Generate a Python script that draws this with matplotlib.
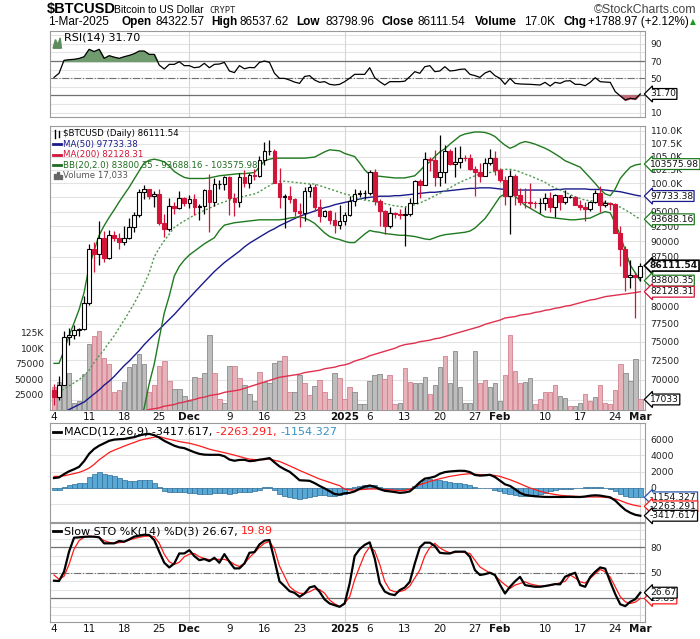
import numpy as np
import matplotlib
matplotlib.use('Agg')
import matplotlib.pyplot as plt
import matplotlib.transforms as mtrans
from matplotlib.lines import Line2D
from matplotlib.text import Annotation

# ---------------- data ----------------
dates = np.arange(np.datetime64('2024-11-04'), np.datetime64('2025-03-02'))

opens = [68742, 67811, 69359, 75640, 75904, 76545, 76778, 80474, 88701, 87955, 90585, 87250, 91066, 90558, 89845, 90542, 92343, 94339, 98504, 98997,
         97777, 98013, 93102, 91985, 95962, 95652, 97461, 96450, 97279, 95865, 96003, 98768, 96593, 99920, 99923, 101237, 97432, 96675, 101173, 100043,
         101459, 101372, 104298, 106030, 106140, 100042, 97491, 97755, 97224, 95104, 94686, 98676, 99299, 95795, 94164, 95163, 93530, 92643, 93429, 94419,
         96887, 98107, 98236, 98315, 102078, 96922, 95043, 92484, 94701, 94566, 94488, 94516, 96534, 100504, 99756, 104462, 104408, 101089, 102016, 106146,
         103654, 103960, 104819, 104714, 102682, 102087, 101332, 103733, 104722, 102405, 100655, 97688, 101406, 97871, 96615, 96593, 96529, 96482, 96500, 97437,
         95748, 97885, 96623, 97509, 97627, 96131, 95771, 95539, 96635, 98334, 96125, 96578, 96273, 91418, 88736, 84347, 84704, 84322.57]
highs = [69399, 70522, 76460, 76943, 77252, 76922, 81474, 89604, 89956, 93434, 91766, 91868, 91764, 91450, 92594, 93905, 94903, 98960, 99655, 99000,
         98650, 98935, 94640, 97361, 96650, 98694, 97499, 97836, 98152, 96297, 99000, 101700, 101000, 100552, 101399, 101272, 98270, 101935, 102540, 101896,
         102618, 105047, 107781, 108268, 106470, 102748, 98098, 99540, 97348, 96416, 99404, 99963, 99884, 97294, 95294, 95218, 94903, 96090, 94929, 97739,
         98956, 98734, 98813, 102482, 102712, 97258, 95349, 95837, 94977, 95378, 95837, 97352, 100681, 100781, 105865, 104914, 106314, 109114, 107240, 106394,
         106850, 107120, 105236, 105475, 103227, 103760, 104784, 106458, 106027, 102755, 101432, 102500, 101733, 99120, 99167, 100137, 96880, 97323, 98345, 98477,
         98118, 97972, 98826, 97944, 97732, 97046, 96754, 96856, 98767, 99497, 96955, 96672, 96503, 92511, 89287, 87078, 85120, 86537.62]
lows = [66803, 67458, 69322, 74480, 75418, 75774, 76566, 80216, 85156, 86256, 86668, 87124, 90094, 88744, 89377, 90371, 91619, 94124, 97232, 97244,
        95791, 92642, 90770, 91778, 94677, 95407, 96000, 95693, 94482, 93629, 94660, 91600, 95981, 99022, 98771, 94355, 94321, 95754, 99311, 99205,
        100634, 101227, 103322, 105291, 100041, 95587, 92175, 96426, 94260, 92403, 93448, 97596, 95137, 93253, 94017, 92881, 91317, 92120, 92788, 94201,
        96034, 97562, 97291, 97926, 96132, 92525, 91220, 92207, 93840, 93712, 89256, 94305, 96500, 97335, 99951, 102227, 99616, 99551, 100119, 103339,
        101262, 102750, 104106, 102540, 97795, 100272, 101329, 103319, 101560, 100297, 96186, 91231, 96208, 96216, 95709, 95620, 95688, 94713, 95256, 94876,
        94088, 95300, 96257, 97322, 96075, 95205, 93388, 95078, 96442, 94871, 95847, 95272, 91371, 86008, 82256, 82716, 78258, 83798.96]
closes = opens[1:] + [86111.54]

volume = [37, 46, 48, 59, 12, 15, 58, 107, 120, 128, 84, 74, 29, 32, 46, 69, 74, 91, 74, 29,
          41, 71, 79, 47, 34, 34, 23, 15, 54, 52, 59, 122, 59, 18, 12, 71, 71, 51, 40, 26,
          15, 61, 46, 44, 76, 80, 87, 29, 29, 57, 43, 24, 39, 48, 29, 18, 59, 51, 18, 37,
          29, 9.4, 9.4, 47, 56, 58, 50, 57, 9.4, 10.6, 68, 46, 43, 43, 54, 26, 41, 69, 87, 44,
          96, 37, 12, 12, 96, 43, 48, 37, 43, 14, 57, 122, 63, 44, 46, 52, 9.4, 18, 29, 29,
          40, 23, 19, 6.7, 6.7, 12, 26, 14, 21, 40, 11, 9.4, 32, 74, 59, 47, 82, 17.033]
volume_dir = list("duuuuuuudddddduuuuuddddduuuuuduudduudduuuduuuudduudduddduddduu"
                  "uuuudddudduuuduuduuuuuudduuudddduuddddduuduudduddddduuudddddudu")

ma50 = [65.3, 65.6, 65.9, 66.3, 66.6, 66.9, 67.2, 67.7, 68.2, 68.7, 69.3, 69.8, 70.4, 71.1, 71.8, 72.4, 73.1, 73.8, 74.6, 75.3,
        76.0, 76.7, 77.4, 78.1, 78.8, 79.6, 80.4, 81.2, 82.0, 82.8, 83.6, 84.4, 85.2, 85.9, 86.6, 87.2, 87.8, 88.4, 89.1, 89.7,
        90.2, 90.7, 91.2, 91.7, 92.1, 92.6, 93.0, 93.4, 93.8, 94.2, 94.5, 94.8, 95.1, 95.4, 95.7, 95.9, 96.2, 96.4, 96.6, 96.8,
        97.0, 97.2, 97.4, 97.5, 97.6, 97.7, 97.7, 97.7, 97.8, 97.8, 97.9, 98.0, 98.1, 98.2, 98.3, 98.4, 98.4, 98.5, 98.6, 98.7,
        98.8, 98.9, 99.0, 99.1, 99.1, 99.2, 99.2, 99.2, 99.1, 99.0, 98.9, 98.8, 98.8, 98.8, 98.8, 98.8, 98.8, 98.8, 98.8, 98.8,
        98.9, 98.9, 99.0, 99.0, 99.0, 99.0, 99.0, 98.9, 98.9, 98.9, 98.8, 98.7, 98.6, 98.5, 98.3, 98.1, 97.9, 97.73338]
ma200 = [62.7, 62.8, 62.9, 63.0, 63.1, 63.3, 63.5, 63.7, 63.9, 64.1, 64.3, 64.5, 64.7, 64.9, 65.1, 65.3, 65.5, 65.8, 66.1, 66.3,
         66.4, 66.5, 66.7, 66.8, 66.9, 67.1, 67.2, 67.4, 67.5, 67.7, 67.8, 68.0, 68.1, 68.2, 68.4, 68.5, 68.6, 68.7, 68.9, 69.1,
         69.3, 69.5, 69.7, 69.9, 70.1, 70.3, 70.4, 70.5, 70.6, 70.7, 70.9, 71.0, 71.1, 71.2, 71.4, 71.5, 71.6, 71.8, 71.9, 72.1,
         72.4, 72.6, 72.8, 73.1, 73.3, 73.5, 73.7, 73.9, 74.1, 74.4, 74.6, 74.7, 74.8, 75.0, 75.1, 75.2, 75.4, 75.5, 75.7, 75.9,
         76.1, 76.3, 76.5, 76.7, 76.9, 77.1, 77.4, 77.6, 77.8, 78.0, 78.3, 78.4, 78.5, 78.7, 78.8, 78.9, 79.1, 79.2, 79.4, 79.5,
         79.7, 79.8, 80.0, 80.1, 80.3, 80.5, 80.7, 80.9, 81.0, 81.2, 81.4, 81.5, 81.6, 81.7, 81.8, 81.9, 82.0, 82.12831]
bb_upper = [72.1, 72.1, 73.8, 75.8, 77.6, 79.5, 82.0, 86.0, 88.5, 91.0, 92.6, 94.0, 95.3, 96.7, 98.0, 99.3, 100.8, 102.3, 103.8, 104.3,
            104.5, 104.3, 104.0, 103.2, 102.2, 101.6, 101.1, 100.9, 100.9, 100.9, 100.9, 101.0, 101.2, 101.4, 101.5, 101.6, 101.7, 101.8, 101.8, 101.9,
            102.0, 103.0, 104.2, 104.5, 104.7, 104.7, 104.7, 104.7, 104.7, 104.7, 104.7, 104.8, 104.9, 105.4, 105.9, 106.3, 106.2, 106.1, 105.6, 105.3,
            105.0, 103.8, 102.5, 101.6, 101.4, 101.3, 101.2, 101.1, 101.0, 101.0, 101.0, 101.2, 101.4, 102.3, 103.3, 104.0, 105.0, 105.9, 106.5, 107.4,
            108.2, 109.0, 109.4, 109.6, 109.8, 109.8, 109.7, 109.4, 108.9, 108.0, 107.2, 106.6, 107.0, 107.6, 107.9, 107.7, 107.4, 107.0, 106.6, 106.1,
            105.5, 104.9, 104.2, 103.8, 103.4, 103.0, 102.0, 101.0, 100.0, 98.9, 98.1, 97.8, 99.0, 100.9, 102.0, 103.0, 103.4, 103.57598]
bb_mid = [68.3, 68.5, 68.8, 69.2, 69.6, 70.0, 70.5, 71.2, 72.2, 73.1, 73.9, 74.9, 75.8, 76.9, 78.0, 79.2, 80.4, 81.8, 83.3, 85.0,
          87.5, 88.9, 90.1, 91.2, 92.3, 92.9, 93.4, 93.9, 94.4, 94.8, 95.2, 95.6, 96.0, 96.4, 96.7, 97.0, 97.3, 97.5, 97.7, 97.9,
          98.1, 98.5, 99.1, 99.6, 100.2, 100.4, 100.4, 100.3, 100.2, 100.1, 100.0, 99.9, 99.9, 99.6, 99.3, 99.0, 98.7, 98.4, 98.1, 97.9,
          97.5, 97.2, 97.0, 96.9, 96.7, 96.6, 96.4, 96.2, 96.0, 95.9, 95.8, 96.0, 96.2, 96.5, 96.9, 97.3, 97.8, 98.2, 98.7, 99.2,
          99.7, 100.2, 100.6, 101.0, 101.4, 101.7, 101.9, 102.0, 102.2, 102.5, 102.6, 102.6, 102.4, 102.1, 101.7, 101.4, 101.0, 100.6, 100.2, 99.6,
          99.2, 98.8, 98.4, 98.0, 97.6, 97.3, 97.0, 96.9, 96.8, 96.7, 96.6, 96.4, 96.0, 95.8, 95.3, 94.8, 94.2, 93.68816]
bb_lower = [64.5, 64.0, 63.0, 61.5, 60.0, 58.5, 57.0, 55.0, 54.0, 53.5, 53.5, 54.0, 55.0, 56.5, 58.0, 60.0, 62.0, 64.0, 66.5, 69.5,
            72.0, 75.5, 79.0, 81.5, 84.5, 86.0, 87.0, 87.8, 88.4, 89.0, 89.6, 90.1, 90.6, 91.8, 92.7, 92.9, 93.1, 93.2, 93.3, 93.4,
            93.5, 93.6, 93.6, 93.6, 93.6, 93.6, 93.7, 93.9, 94.0, 94.1, 93.9, 93.5, 93.0, 92.2, 91.4, 90.8, 90.5, 90.3, 90.0, 89.8,
            89.8, 90.5, 91.2, 91.8, 91.6, 91.5, 91.3, 91.2, 91.1, 91.0, 91.0, 90.9, 90.8, 90.6, 90.4, 90.3, 90.6, 90.9, 91.1, 91.2,
            91.3, 91.4, 91.5, 91.7, 92.2, 93.0, 93.8, 95.0, 96.3, 97.6, 98.1, 98.5, 97.7, 96.9, 96.1, 95.6, 95.1, 94.6, 94.1, 94.0,
            93.9, 93.8, 93.7, 93.6, 93.6, 93.7, 93.8, 93.9, 94.3, 94.7, 95.0, 94.8, 93.0, 91.0, 88.5, 86.2, 85.0, 83.80035]

rsi = [51, 55.7, 70.8, 71.5, 72, 73, 75, 83.6, 81, 83.6, 73.1, 76.2, 74.5, 73.1, 75, 76.5, 78.5, 81.6, 81.6, 77.7,
       77.7, 65.3, 60.7, 66.1, 66.1, 69.2, 64.6, 64.6, 62.2, 63.0, 67.3, 62.2, 66.1, 66.5, 68.4, 58.4, 56.5, 64.6, 61, 62.5,
       62.2, 68.4, 70, 68.4, 55.7, 49.8, 49.8, 47.9, 45.5, 44.0, 52, 53, 47.9, 45.2, 46, 42.9, 42.1, 42.9, 46, 50,
       54.5, 54.5, 54.5, 62.2, 50.6, 46, 42.1, 46, 46, 46, 46.5, 51.8, 57.6, 55.7, 63.4, 64.6, 57.6, 58.4, 63.4, 58.4,
       59, 60.3, 60.7, 54.5, 53, 51, 56, 58.4, 53, 49.8, 42.9, 49.8, 44.0, 43.3, 43.1, 42.9, 42.5, 42.1, 45.2, 40.9,
       45.2, 44.0, 46.7, 47.1, 42.9, 42.9, 41.3, 45.2, 50.6, 46.0, 45.5, 45.2, 34.4, 29.5, 24.7, 26.6, 25.8, 31.70]

macd = [1221, 1302, 1700, 2050, 2300, 2600, 3300, 4200, 4800, 5200, 5500, 5800, 5950, 6000, 6030, 6150, 6250, 6450, 6600, 6650,
        6500, 6200, 5800, 5500, 5200, 5000, 4900, 4650, 4400, 4200, 4100, 4080, 4080, 4080, 3900, 3500, 3350, 3450, 3470, 3300,
        3350, 3480, 3560, 3680, 3150, 2650, 2300, 2000, 1500, 950, 920, 880, 600, 250, -50, -400, -750, -820, -650, -600,
        -420, -100, 150, 300, 150, -150, -350, -420, -500, -600, -550, -420, 100, 700, 1150, 1250, 1400, 1750, 1950, 2030,
        2080, 2120, 2100, 1950, 1600, 1520, 1560, 1620, 1350, 900, 450, 250, -150, -600, -850, -950, -1020, -1060, -1100, -1110,
        -1100, -1110, -1100, -1090, -1110, -1110, -1050, -950, -900, -940, -1050, -1150, -1550, -2150, -2700, -3050, -3300, -3417.617]
macd_signal = [1420, 1424, 1500, 1628, 1770, 1914, 2150, 2444, 2900, 3465, 3900, 4364, 4650, 4894, 5150, 5384, 5600, 5833, 6000, 6118,
               6250, 6322, 6150, 5996, 5850, 5710, 5600, 5506, 5350, 5180, 4980, 4772, 4620, 4486, 4340, 4201, 4040, 3874, 3700, 3547,
               3500, 3465, 3500, 3547, 3400, 3261, 3000, 2730, 2450, 2159, 1900, 1628, 1360, 1098, 900, 690, 480, 282, -150, -250,
               -250, -208, -170, -127, -127, -150, -200, -230, -280, -330, -300, -150, 100, 404, 600, 812, 980, 1139, 1280, 1424,
               1520, 1628, 1700, 1751, 1700, 1628, 1620, 1628, 1530, 1424, 1220, 1016, 770, 526, 250, -4, -200, -412, -560, -698,
               -800, -900, -960, -1000, -1024, -1060, -1090, -1106, -1106, -1106, -1150, -1229, -1350, -1550, -1800, -2000, -2150, -2263.291]
macd_hist = [-245, -245, 120, 330, 490, 570, 650, 1350, 1750, 1960, 1750, 1630, 1430, 1220, 1020, 900, 816, 940, 1020, 980,
             650, 120, -410, -490, -490, -490, -490, -570, -570, -690, -690, -690, -650, -570, -570, -690, -610, -490, -490, -490,
             -410, -245, 120, 120, -285, -690, -980, -1100, -1220, -1390, -1220, -1100, -980, -900, -900, -980, -980, -900, -735, -160,
             80, 245, 330, 410, 330, 80, -80, -80, -80, -120, -80, 0, 245, 650, 1020, 1060, 1020, 940, 816, 735,
             650, 570, 490, 410, 160, 40, 0, 0, -245, -410, -610, -735, -900, -980, -980, -980, -900, -735, -570, -410,
             -245, -160, -120, -80, -40, 0, 80, 80, 120, 80, 0, -160, -410, -735, -980, -1100, -1100, -1154.327]

sto_k = [40.8, 40.4, 51.4, 75, 91.5, 91.9, 92.5, 92.7, 92.7, 91.9, 84.8, 84.8, 84.8, 87.6, 86.8, 89.5, 92.7, 94, 95, 94.6,
         88.7, 75, 62, 56.4, 61.1, 72.9, 72.9, 76.8, 69.8, 65.0, 66.3, 63.9, 67.8, 62.0, 72.1, 63.1, 55.3, 55.3, 61.1, 73.7,
         74.5, 83.6, 88.0, 88.7, 65.0, 40.0, 34.4, 28.5, 26.5, 21.8, 25.7, 32.8, 34.4, 27.7, 18.7, 13.9, 11.9, 10.0, 13.9, 37.5,
         70, 78, 83, 86, 67.1, 38, 28, 25, 23.8, 29.7, 32.8, 39.5, 61.1, 80, 85.6, 85.6, 81.6, 73.7, 73, 72.9,
         75, 75, 75, 69, 53.3, 47.5, 48.5, 50.2, 47.5, 36, 25.7, 33.6, 40, 45.3, 35.6, 34.5, 33.6, 33.6, 34.5, 35.6,
         36.8, 36.5, 45.5, 48, 50.2, 35.6, 33.6, 45, 51.3, 56.4, 55, 39.5, 25, 13, 10.8, 15.9, 19, 26.67]
sto_d = [47.5, 42.4, 46, 60, 78, 88, 92, 93.5, 92.5, 91.9, 88, 86, 84.8, 85.6, 86.5, 88.7, 90.5, 92, 93, 93.5,
         92.7, 85, 72, 63.1, 60, 62.5, 69.0, 72, 72.9, 69.0, 67, 65.5, 65.9, 65.9, 65.9, 64, 60, 57.5, 61, 68,
         74, 80, 85, 86.8, 78, 58, 46, 34, 29, 26, 25.7, 27.7, 31, 30.4, 26, 18, 13.5, 10.5, 14, 21.9,
         42, 57.2, 72, 80.8, 76, 60, 40, 30, 27.7, 28, 29.7, 34.5, 44, 53.3, 70, 80, 84.8, 79.5, 76, 73.7,
         74, 75, 74, 72.9, 65, 57, 53.3, 50, 47, 41, 36, 31.7, 35.6, 37.5, 39.5, 37, 35.6, 34.4, 34.5, 35,
         36.5, 38.5, 40, 47.5, 44, 39.5, 38, 43.4, 49, 54, 51.3, 45, 33.6, 22, 15.9, 13.9, 15.5, 19.89]

tick_dates = ['2024-11-04', '2024-11-11', '2024-11-18', '2024-11-25', '2024-12-01', '2024-12-09', '2024-12-16',
              '2024-12-23', '2025-01-01', '2025-01-06', '2025-01-13', '2025-01-20', '2025-01-27', '2025-02-01',
              '2025-02-10', '2025-02-17', '2025-02-24', '2025-03-01']
tick_labels = ['4', '11', '18', '25', 'Dec', '9', '16', '23', '2025', '6', '13', '20', '27', 'Feb', '10', '17', '24', 'Mar']
month_dates = ['2024-12-01', '2025-01-01', '2025-02-01', '2025-03-01']

price_ticks = [70000, 72500, 75000, 77500, 80000, 82500, 85000, 87500, 90000, 92500, 95000, 97500,
               100000, 102500, 105000, 107500, 110000]
price_tick_labels = ['70000', '72500', '75000', '77500', '80000', '', '', '87500', '90000', '92500', '95000', '',
                     '100.0K', '102.5K', '105.0K', '107.5K', '110.0K']
vol_ticks = [25000, 50000, 75000, 100000, 125000]
vol_tick_labels = ['25000', '50000', '75000', '100K', '125K']

# ---------------- prep ----------------
x = np.arange(len(dates))
o = np.array(opens, float); h = np.array(highs, float); l = np.array(lows, float); c = np.array(closes, float)
vol = np.array(volume, float) * 1000
def k(a):
    return np.array(a, float) * 1000
def didx(s):
    return int((np.datetime64(s) - dates[0]).astype(int))
tpos = [didx(s) for s in tick_dates]
mpos = [didx(s) for s in month_dates]

W, H = 700, 639
fig = plt.figure(figsize=(W / 100, H / 100), dpi=100)
def rect(x0, y0, x1, y1):
    return [x0 / W, 1 - y1 / H, (x1 - x0) / W, (y1 - y0) / H]
def fxy(px, py):
    return px / W, 1 - py / H

XL, XR = 49.5, 645.0
XLIM = (-0.9, 117.94)
FRAME = '#9a9a9a'
GRID = '#e3e3e3'
VGRID = '#d6d6d6'
RED = '#d2143a'
SANS = ['Liberation Sans', 'DejaVu Sans']
TFS = 6.6
LFS = 8.0     # indicator legends
MFS = 6.2     # main price legend

def style_panel(ax):
    ax.set_xlim(*XLIM)
    for s in ax.spines.values():
        s.set_color(FRAME); s.set_linewidth(0.8)
    ax.tick_params(axis='both', length=0, labelsize=TFS, colors='#222222')
    ax.yaxis.tick_right()
    ax.tick_params(axis='y', pad=4)
    ax.set_xticks([])
    for m in mpos:
        ax.axvline(m, color=VGRID, lw=0.8, zorder=0.5)

def tag(ax, yval, text, color, bold=False):
    tr = mtrans.blended_transform_factory(ax.transAxes, ax.transData)
    ax.text((650 - XL) / (XR - XL), yval, text, transform=tr, fontsize=TFS, va='center', ha='left',
            color='#111111', fontweight='bold' if bold else 'normal', clip_on=False, zorder=20,
            bbox=dict(boxstyle='larrow,pad=0.1', fc='white', ec=color, lw=0.9 if not bold else 1.2))

def chain(px, py, parts, fs, family='DejaVu Sans'):
    prev = fig.text(*fxy(px, py), parts[0][0], color=parts[0][1], fontsize=fs, va='center', ha='left', family=family)
    for s, col in parts[1:]:
        a = Annotation(s, xy=(1, 0), xycoords=prev, va='bottom', ha='left', color=col,
                       fontsize=fs, family=family, annotation_clip=False)
        fig.add_artist(a)
        prev = a

# ---------------- header ----------------
fig.text(*fxy(47, 9), '$BTCUSD', fontsize=10.5, fontweight='bold', family=SANS, va='center')
fig.text(*fxy(114, 10), 'Bitcoin to US Dollar', fontsize=7.5, family=SANS, va='center')
fig.text(*fxy(209, 10.5), 'CRYPT', fontsize=6.3, family='DejaVu Sans Mono', va='center', color='#222')
fig.text(*fxy(697, 10), '\u00a9StockCharts.com', fontsize=8.8, family=SANS, va='center', ha='right', color='#444')
hdr = [(48, '1-Mar-2025', False), (121, 'Open', True), (155, '84322.57', False), (211, 'High', True),
       (240, '86537.62', False), (296, 'Low', True), (326, '83798.96', False), (382, 'Close', True),
       (417, '86111.54', False), (475, 'Volume', True), (524, '17.0K', False), (563, 'Chg', True),
       (588, '+1788.97 (+2.12%)', False)]
for px, t, b in hdr:
    fig.text(*fxy(px, 22), t, fontsize=8.5, family=SANS, va='center', fontweight='bold' if b else 'normal')
fig.text(*fxy(690, 22), '\u25b2', fontsize=5.5, color='#1a9a1a', va='center', family='DejaVu Sans')

# ---------------- RSI ----------------
ax_r = fig.add_axes(rect(XL, 31, XR, 117))
style_panel(ax_r)
ax_r.set_ylim(4.9, 104.9)
for v in range(10, 101, 10):
    ax_r.axhline(v, color=GRID, lw=0.8, zorder=0.4)
ax_r.axhline(70, color='#707070', lw=0.9, zorder=1)
ax_r.axhline(30, color='#707070', lw=0.9, zorder=1)
ax_r.axhline(50, color='#707070', lw=0.8, ls='-.', zorder=1)
rv = np.array(rsi)
ax_r.fill_between(x, rv, 70, where=rv > 70, interpolate=True, color='#6f9b6f', zorder=2)
ax_r.fill_between(x, rv, 30, where=rv < 30, interpolate=True, color='#c46a78', zorder=2)
ax_r.plot(x, rv, color='black', lw=0.9, zorder=3)
ax_r.set_yticks([10, 50, 70, 90])
ax_r.set_yticklabels(['10', '50', '70', '90'])
fig.text(*fxy(64, 37), 'RSI(14) 31.70', fontsize=LFS, va='center', ha='left', family='DejaVu Sans')
ax_r.fill([0.006, 0.010, 0.014, 0.018, 0.020, 0.006], [0.80, 0.90, 0.84, 0.92, 0.80, 0.80], transform=ax_r.transAxes,
          color='#5c8c5c', zorder=5)
tag(ax_r, 31.70, '31.70', 'black')

# ---------------- main price ----------------
PTOP, PBOT = 126, 410
YLIM = (66240, 111000)
ax_p = fig.add_axes(rect(XL, PTOP, XR, PBOT))
style_panel(ax_p)
ax_p.set_yscale('log')
ax_p.set_ylim(*YLIM)
for v in price_ticks + [67500]:
    ax_p.axhline(v, color=GRID, lw=0.8, zorder=0.4)
ax_p.set_yticks([]); ax_p.minorticks_off()

ax_v = fig.add_axes(rect(XL, PTOP, XR, PBOT))
ax_v.set_xlim(*XLIM); ax_v.patch.set_alpha(0)
for s in ax_v.spines.values(): s.set_visible(False)
ax_v.set_ylim(0, 459000)
vcol = ['#bdbdbd' if d == 'u' else '#e7b3ba' for d in volume_dir]
vedge = ['#8a8a8a' if d == 'u' else '#d3808f' for d in volume_dir]
ax_v.bar(x, vol, width=0.9, color=vcol, edgecolor=vedge, lw=0.6)
ax_v.set_xticks([])
ax_v.yaxis.tick_left()
ax_v.set_yticks(vol_ticks); ax_v.set_yticklabels(vol_tick_labels)
ax_v.tick_params(axis='y', length=0, labelsize=TFS, pad=4, colors='#222222')

ax_m = fig.add_axes(rect(XL, PTOP, XR, PBOT))
ax_m.set_xlim(*XLIM); ax_m.patch.set_alpha(0)
for s in ax_m.spines.values(): s.set_visible(False)
ax_m.set_yscale('log'); ax_m.set_ylim(*YLIM)
ax_m.plot(x, k(ma200), color='#e0304e', lw=1.0, zorder=2)
ax_m.plot(x, k(ma50), color='#1a1a8c', lw=1.0, zorder=2)
ax_m.plot(x, k(bb_upper), color='#1f7a1f', lw=1.0, zorder=2)
ax_m.plot(x, k(bb_lower), color='#1f7a1f', lw=1.0, zorder=2)
ax_m.plot(x, k(bb_mid), color='#4f9a4f', lw=1.0, ls=(0, (1.5, 1.5)), zorder=2)
up = c >= o
dn = ~up
ax_m.vlines(x[up], l[up], h[up], color='black', lw=0.9, zorder=3)
ax_m.bar(x[up], np.maximum(c[up] - o[up], 60), bottom=o[up], width=0.72, facecolor='white', edgecolor='black', lw=0.8, zorder=4)
ax_m.vlines(x[dn], l[dn], h[dn], color=RED, lw=0.9, zorder=3)
ax_m.bar(x[dn], np.maximum(o[dn] - c[dn], 60), bottom=c[dn], width=0.72, facecolor=RED, edgecolor=RED, lw=0.8, zorder=4)
ax_m.set_xticks([])
ax_m.yaxis.tick_right()
ax_m.set_yticks(price_ticks); ax_m.set_yticklabels(price_tick_labels)
ax_m.minorticks_off()
ax_m.tick_params(axis='y', length=0, labelsize=TFS, pad=4, colors='#222222')

# legend
lg = [('$BTCUSD (Daily) 86111.54', 'black', None), ('MA(50) 97733.38', '#1a1a8c', '#1a1a8c'),
      ('MA(200) 82128.31', '#d2143a', '#d2143a'), ('BB(20,2.0) 83800.35 - 93688.16 - 103575.98', '#1f6b1f', '#1f6b1f'),
      ('Volume 17,033', '#555555', None)]
for j, (t, col, lc) in enumerate(lg):
    py = 134 + j * 10.4
    fig.text(*fxy(63, py), t, fontsize=MFS, color=col, va='center', ha='left', family='DejaVu Sans')
    if lc:
        fig.add_artist(Line2D([53 / W, 61 / W], [1 - py / H] * 2, color=lc, lw=2))
fig.add_artist(Line2D([55 / W, 55 / W], [1 - 130 / H, 1 - 138 / H], color='black', lw=1))
fig.add_artist(Line2D([59 / W, 59 / W], [1 - 131 / H, 1 - 137 / H], color='black', lw=1))
for bx, bh in [(53.5, 5), (56.5, 7), (59.5, 4)]:
    fig.add_artist(plt.Rectangle((bx / W, 1 - 179.5 / H), 2 / W, bh / H, color='#666666', transform=fig.transFigure))

tag(ax_m, 103575.98, '103575.98', '#1f7a1f')
tag(ax_m, 97733.38, '97733.38', '#1a1a8c')
tag(ax_m, 93688.16, '93688.16', '#1f7a1f')
tag(ax_m, 86111.54, '86111.54', 'black', bold=True)
tag(ax_m, 83800.35, '83800.35', '#1f7a1f')
tag(ax_m, 82128.31, '82128.31', '#d2143a')
tag(ax_v, 17033, '17033', 'black')

def date_labels(ypix):
    for p, t in zip(tpos, tick_labels):
        bold = not t.isdigit() or t == '2025'
        fig.text(*fxy(54 + p * 5.011, ypix), t, fontsize=7.5, ha='center', va='center',
                 fontweight='bold' if bold else 'normal', family='DejaVu Sans', color='#111')
date_labels(416.5)

# ---------------- MACD ----------------
ax_c = fig.add_axes(rect(XL, 423, XR, 521.5))
style_panel(ax_c)
ax_c.set_ylim(-4126, 7995)
for v in [-2000, 0, 2000, 4000, 6000]:
    ax_c.axhline(v, color=GRID, lw=0.8, zorder=0.4)
hv = np.array(macd_hist)
ax_c.bar(x, hv, width=1.0, color='#5aa8d6', edgecolor='#2e6e96', lw=0.5, zorder=2)
ax_c.plot(x, macd_signal, color='#ff1a1a', lw=0.9, zorder=3)
ax_c.plot(x, macd, color='black', lw=1.6, zorder=4)
ax_c.set_yticks([0, 2000, 4000, 6000])
ax_c.set_yticklabels(['0', '2000', '4000', '6000'])
fig.add_artist(Line2D([53 / W, 61 / W], [1 - 432 / H] * 2, color='black', lw=2))
chain(64, 432, [('MACD(12,26,9) -3417.617, ', 'black'), ('-2263.291, ', '#ff1a1a'), ('-1154.327', '#3a8fc4')], LFS)
tag(ax_c, -1154.327, '-1154.327', '#2255aa')
tag(ax_c, -2263.291, '-2263.291', '#ff1a1a')
tag(ax_c, -3417.617, '-3417.617', 'black')

# ---------------- STO ----------------
ax_s = fig.add_axes(rect(XL, 523, XR, 622))
style_panel(ax_s)
ax_s.set_ylim(-7.9, 108.8)
for v in range(0, 101, 10):
    ax_s.axhline(v, color=GRID, lw=0.8, zorder=0.4)
ax_s.axhline(80, color='#707070', lw=0.9, zorder=1)
ax_s.axhline(20, color='#707070', lw=0.9, zorder=1)
ax_s.axhline(50, color='#707070', lw=0.8, ls='-.', zorder=1)
ax_s.plot(x, sto_d, color='#ff1a1a', lw=0.9, zorder=3)
ax_s.plot(x, sto_k, color='black', lw=1.6, zorder=4)
ax_s.set_yticks([50, 80]); ax_s.set_yticklabels(['50', '80'])
fig.add_artist(Line2D([53 / W, 61 / W], [1 - 531 / H] * 2, color='black', lw=2))
chain(64, 531, [('Slow STO %K(14) %D(3) 26.67, ', 'black'), ('19.89', '#ff1a1a')], LFS)
tag(ax_s, 19.89, '19.89', '#ff1a1a')
tag(ax_s, 26.67, '26.67', 'black')
date_labels(629.5)

fig.savefig('out.png', dpi=100)
